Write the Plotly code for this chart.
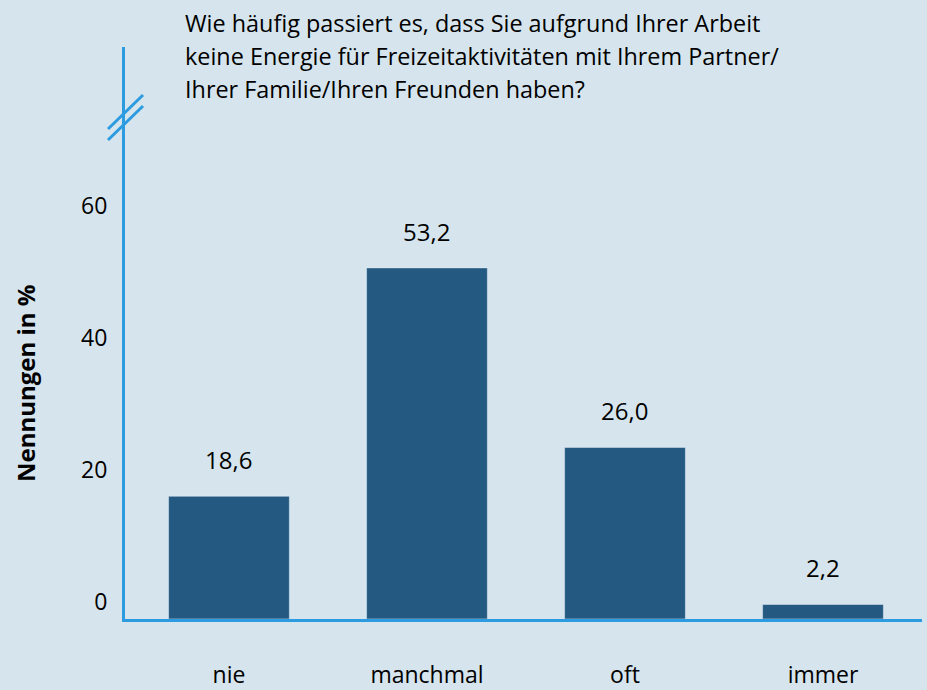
"""
Balkendiagramm: Energie fuer Freizeitaktivitaeten
"""
import plotly.graph_objects as go

categories = ['nie', 'manchmal', 'oft', 'immer']
values = [18.6, 53.2, 26.0, 2.2]
y_ticks = [0, 20, 40, 60]
title_lines = [
    'Wie häufig passiert es, dass Sie aufgrund Ihrer Arbeit',
    'keine Energie für Freizeitaktivitäten mit Ihrem Partner/',
    'Ihrer Familie/Ihren Freunden haben?',
]
y_title = 'Nennungen in %'

BG = '#d6e5ed'
BAR = '#245a82'
AXIS = '#2d9be0'
FONT = 'Open Sans'

W, H = 927, 690
L, R, T, B = 125, 5, 47, 71
pw, ph = W - L - R, H - T - B


def px_x(x):
    return (x - L) / pw


def px_y(y):
    return (H - B - y) / ph


fig = go.Figure()
fig.add_trace(go.Bar(x=categories, y=values, marker_color=BAR,
                     width=0.61, hoverinfo='skip'))

annotations = []
for c, v in zip(categories, values):
    annotations.append(dict(x=c, y=v, text=f'{v:.1f}'.replace('.', ','),
                            showarrow=False, yanchor='bottom', yshift=18,
                            font=dict(size=24, color='black', family=FONT)))
for i, line in enumerate(title_lines):
    annotations.append(dict(xref='paper', yref='paper', x=px_x(183),
                            y=px_y(23 + 33 * i), text=line, showarrow=False,
                            xanchor='left', yanchor='middle',
                            font=dict(size=23.4, color='black', family=FONT)))
annotations.append(dict(xref='paper', yref='paper', x=px_x(25), y=px_y(383),
                        text=f'<b>{y_title}</b>', textangle=-90,
                        xanchor='center', yanchor='middle', showarrow=False,
                        font=dict(size=24, color='black', family=FONT)))

# axis break marks
shapes = []
for dy in (0, 11):
    shapes.append(dict(type='line', xref='paper', yref='paper',
                       x0=px_x(108), y0=px_y(129 + dy),
                       x1=px_x(143), y1=px_y(95 + dy),
                       line=dict(color=AXIS, width=3)))

fig.update_layout(
    width=W, height=H,
    margin=dict(l=L, r=R, t=T, b=B),
    paper_bgcolor=BG, plot_bgcolor=BG,
    showlegend=False,
    font=dict(family=FONT, size=23, color='black'),
    annotations=annotations,
    shapes=shapes,
    bargap=0.39,
)
fig.update_xaxes(range=[-0.525, 3.5], showline=True, linecolor=AXIS,
                 linewidth=3, showgrid=False, ticks='', ticklabelstandoff=33,
                 tickfont=dict(size=23), automargin=False)
fig.update_yaxes(range=[0, ph / 6.6], showline=True, linecolor=AXIS,
                 linewidth=3, showgrid=False, zeroline=False, ticks='',
                 tickvals=y_ticks, ticklabelstandoff=10, ticklabelshift=-17,
                 tickfont=dict(size=23), automargin=False)

fig.write_html("out.html", config={'displayModeBar': False},
               post_script="document.body.style.margin='0';")
